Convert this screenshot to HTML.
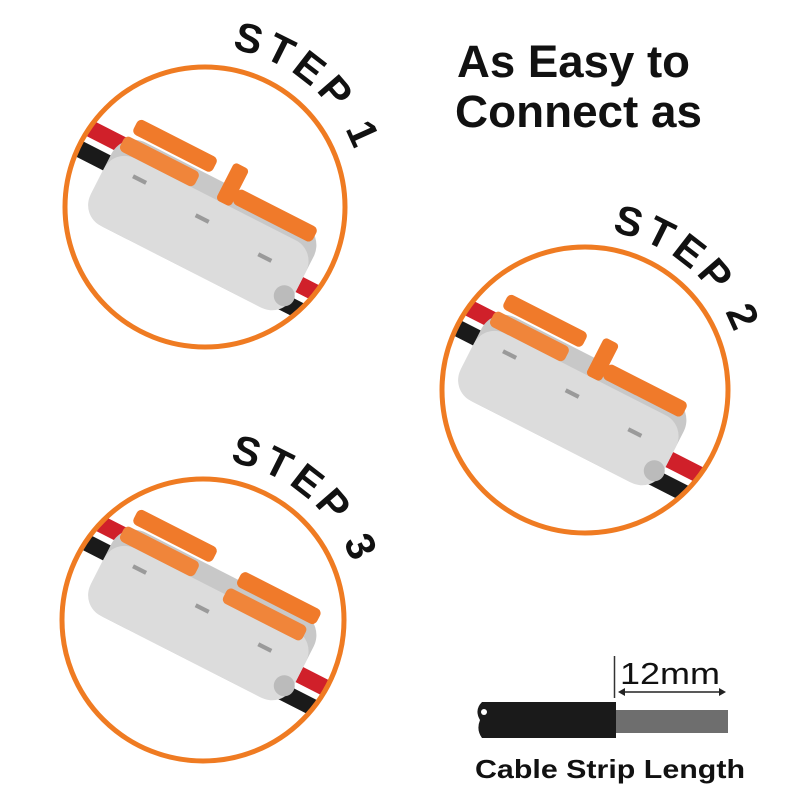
<!DOCTYPE html>
<html><head><meta charset="utf-8"><style>
html,body{margin:0;padding:0;background:#fff;}
svg{display:block;}
text{font-family:"Liberation Sans",Arial,sans-serif;}
</style></head><body>
<svg width="800" height="800" viewBox="0 0 800 800" xmlns="http://www.w3.org/2000/svg">
<defs>
<g id="conn">
  <line x1="-190" y1="-28" x2="0" y2="-28" stroke="#d0202a" stroke-width="16"/>
  <line x1="-190" y1="-6" x2="0" y2="-6" stroke="#1a1a1a" stroke-width="16"/>
  <line x1="0" y1="14" x2="190" y2="14" stroke="#d0202a" stroke-width="16"/>
  <line x1="0" y1="36" x2="190" y2="36" stroke="#1a1a1a" stroke-width="16"/>
  <rect x="-108" y="-40" width="216" height="90" rx="24" fill="#c8c8c8"/>
  <rect x="-108" y="-22" width="216" height="72" rx="22" fill="#dcdcdc"/>
  <rect x="-80" y="-8" width="14" height="4" fill="#9a9a9a"/>
  <rect x="-10" y="-2" width="14" height="4" fill="#9a9a9a"/>
  <rect x="60" y="4" width="14" height="4" fill="#9a9a9a"/>
  <circle cx="100" cy="30" r="10" fill="#bbb"/>
</g>
<g id="levL">
  <rect x="-100" y="-58" width="85" height="16" rx="5" fill="#f07a2a"/>
  <rect x="-104" y="-38" width="80" height="16" rx="5" fill="#f0853a"/>
</g>
<g id="levR">
  <rect x="15" y="-50" width="85" height="16" rx="5" fill="#f07a2a"/>
  <rect x="10" y="-30" width="85" height="16" rx="5" fill="#f0853a"/>
</g>
<clipPath id="c1"><circle cx="205" cy="207" r="140"/></clipPath>
<clipPath id="c2"><circle cx="585" cy="390" r="143"/></clipPath>
<clipPath id="c3"><circle cx="203" cy="620" r="141"/></clipPath>
<path id="a1" d="M 45 207 A 160 160 0 0 1 365 207"/>
<path id="a2" d="M 425 390 A 160 160 0 0 1 745 390"/>
<path id="a3" d="M 43 620 A 160 160 0 0 1 363 620"/>
</defs>

<g clip-path="url(#c1)"><g transform="translate(205,220) rotate(27) scale(1.05)"><use href="#conn"/><use href="#levL"/>
<rect x="15" y="-42" width="85" height="16" rx="5" fill="#f07a2a"/><rect x="0" y="-62" width="16" height="40" rx="4" fill="#f07a2a"/></g></g>
<circle cx="205" cy="207" r="140" fill="none" stroke="#ef7b22" stroke-width="5"/>

<g clip-path="url(#c2)"><g transform="translate(575,395) rotate(27) scale(1.05)"><use href="#conn"/><use href="#levL"/>
<rect x="15" y="-42" width="85" height="16" rx="5" fill="#f07a2a"/><rect x="0" y="-62" width="16" height="40" rx="4" fill="#f07a2a"/></g></g>
<circle cx="585" cy="390" r="143" fill="none" stroke="#ef7b22" stroke-width="5"/>

<g clip-path="url(#c3)"><g transform="translate(205,610) rotate(27) scale(1.05)"><use href="#conn"/><use href="#levL"/><use href="#levR"/></g></g>
<circle cx="203" cy="620" r="141" fill="none" stroke="#ef7b22" stroke-width="5"/>

<text font-size="41" font-weight="bold" fill="#111" letter-spacing="5"><textPath href="#a1" startOffset="278">STEP 1</textPath></text>
<text font-size="41" font-weight="bold" fill="#111" letter-spacing="5"><textPath href="#a2" startOffset="278">STEP 2</textPath></text>
<text font-size="41" font-weight="bold" fill="#111" letter-spacing="5"><textPath href="#a3" startOffset="278">STEP 3</textPath></text>

<text x="457" y="77" font-size="45" fill="#111" font-weight="bold" textLength="233" lengthAdjust="spacingAndGlyphs">As Easy to</text>
<text x="455" y="127" font-size="45" fill="#111" font-weight="bold" textLength="247" lengthAdjust="spacingAndGlyphs">Connect as</text>

<path d="M 482 702 L 616 702 L 616 738 L 482 738 Q 476 730 480 720 Q 474 710 482 702 Z" fill="#1a1a1a"/>
<circle cx="484" cy="712" r="3" fill="#fff"/>
<rect x="616" y="710" width="112" height="23" fill="#6e6e6e"/>
<line x1="614.5" y1="656" x2="614.5" y2="698" stroke="#333" stroke-width="1.5"/>
<line x1="620" y1="692" x2="724" y2="692" stroke="#222" stroke-width="1.5"/>
<path d="M 618 692 L 625 688 L 625 696 Z" fill="#222"/>
<path d="M 726 692 L 719 688 L 719 696 Z" fill="#222"/>
<text x="620" y="684" font-size="31" fill="#111" textLength="100" lengthAdjust="spacingAndGlyphs">12mm</text>
<text x="475" y="778" font-size="26" font-weight="bold" fill="#111" textLength="270" lengthAdjust="spacingAndGlyphs">Cable Strip Length</text>
</svg>
</body></html>
